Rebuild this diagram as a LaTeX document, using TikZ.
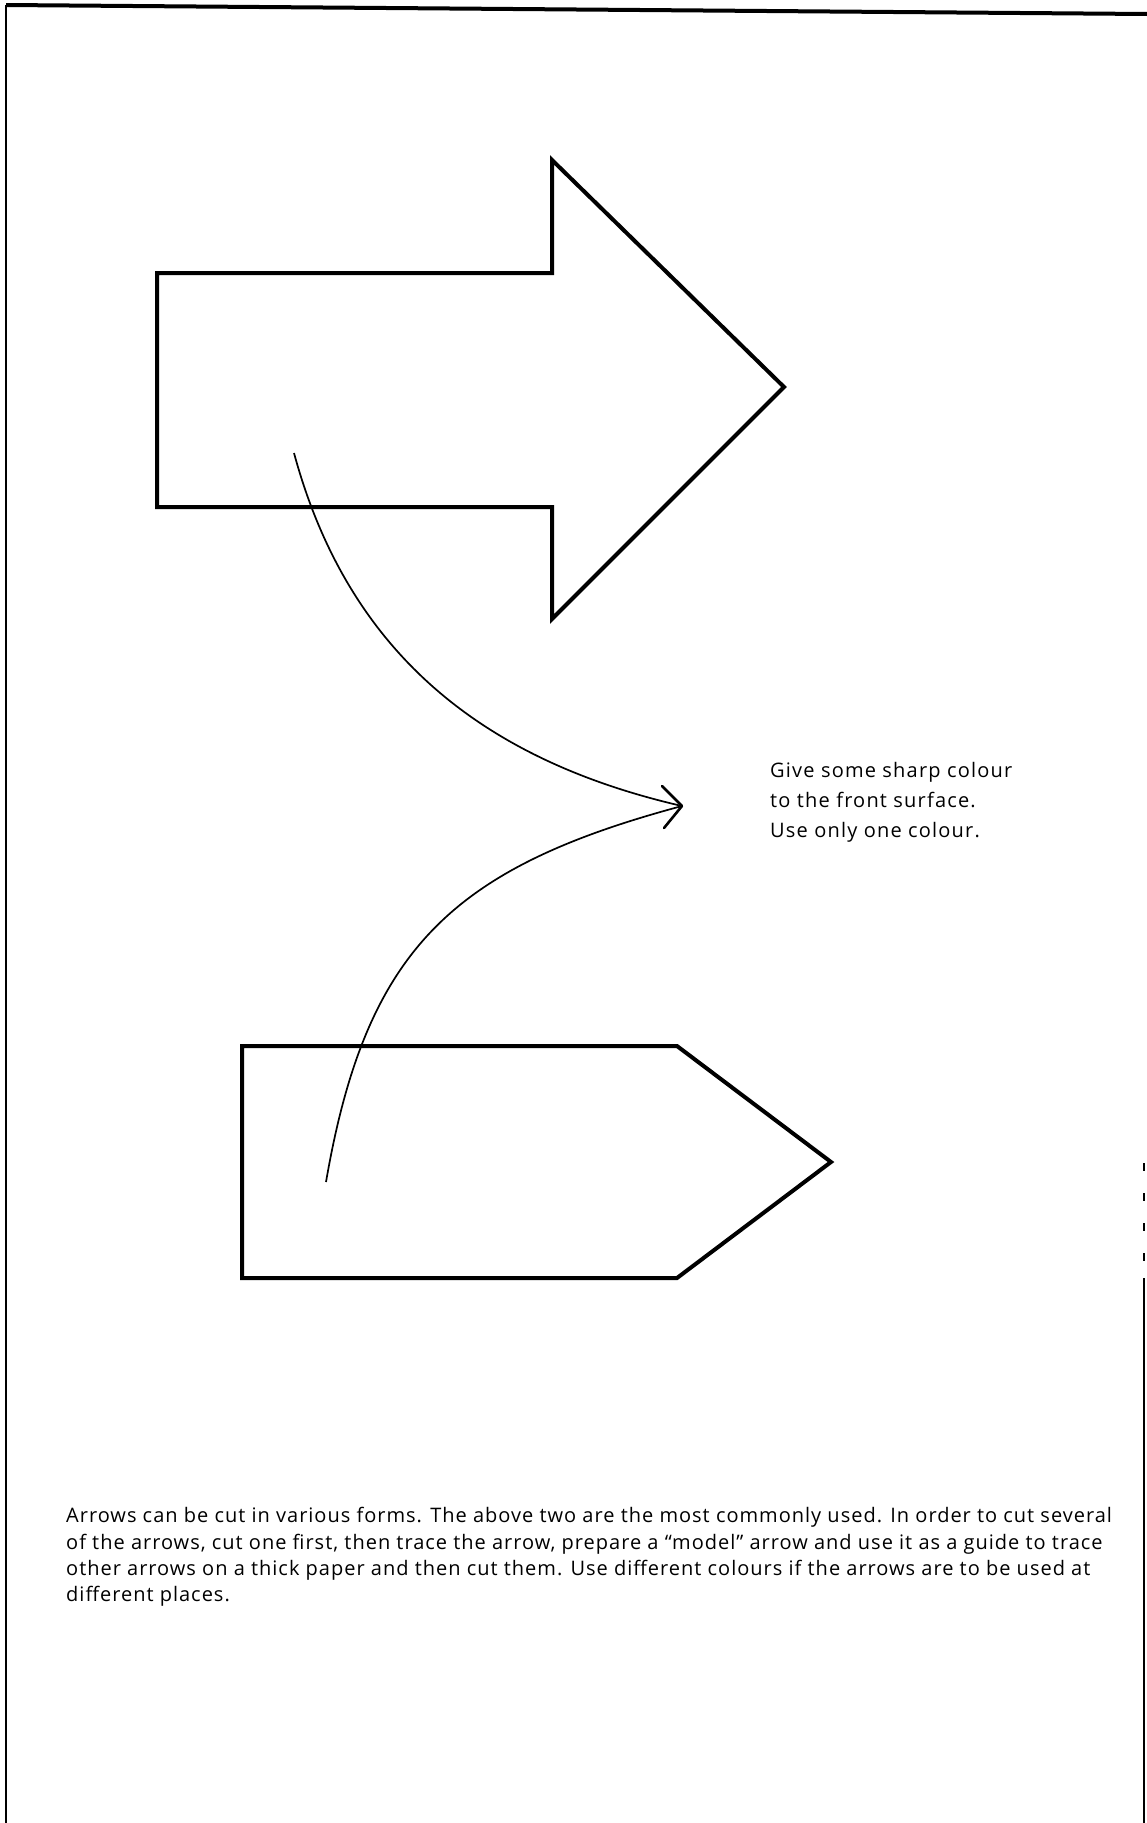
\documentclass[tikz,border=0pt]{standalone}
\usepackage{fontspec}
\setmainfont{Open Sans}
\begin{document}
\begin{tikzpicture}[x=1pt,y=-1pt,
  outline/.style={line width=4pt, line join=miter, line cap=round},
  guide/.style={line width=1.7pt},
  tipline/.style={line width=2.6pt, line cap=round},
  framel/.style={line width=2.5pt},
  note/.style={anchor=base west, inner sep=0pt, font=\fontsize{20}{24}\selectfont\addfontfeature{LetterSpace=6}},
  para/.style={anchor=base west, inner sep=0pt, font=\fontsize{20}{24}\selectfont\addfontfeature{LetterSpace=5}}]
\useasboundingbox (0,0) rectangle (1147,1823);
\fill[white] (0,0) rectangle (1147,1823);
% frame
\draw[line width=4pt] (6,5) -- (1147,14);
\draw[framel] (6,5) -- (6,1823);
\draw[framel, dash pattern=on 8pt off 22pt] (1144,1163) -- (1144,1272);
\draw[framel] (1144,1278) -- (1144,1823);
% big arrow
\draw[outline] (157,273) -- (552,273) -- (552,160) -- (784,387) -- (552,619) -- (552,507) -- (157,507) -- cycle;
% pentagon arrow
\draw[outline] (242,1046) -- (677,1046) -- (831,1162) -- (677,1278) -- (242,1278) -- cycle;
% guide curves
\coordinate (s1) at (294,453);
\coordinate (s2) at (326,1182);
\coordinate (tip) at (682,806);
\draw[guide] (s1) .. controls (350,660) and (491,762) .. (tip);
\draw[guide] (s2) .. controls (366,950) and (451,868) .. (tip);
\draw[tipline] (tip) -- (662,786);
\draw[tipline] (tip) -- (664,828);
% note
\node[note] (n1) at (770,777) {Give some sharp colour};
\node[note] (n2) at (770,807) {to the front surface.};
\node[note] (n3) at (770,837) {Use only one colour.};
% paragraph
\node[para] (p1) at (66,1522) {Arrows can be cut in various forms. The above two are the most commonly used. In order to cut several};
\node[para] (p2) at (66,1549) {of the arrows, cut one first, then trace the arrow, prepare a ``model'' arrow and use it as a guide to trace};
\node[para] (p3) at (66,1575) {other arrows on a thick paper and then cut them. Use different colours if the arrows are to be used at};
\node[para] (p4) at (66,1601) {different places.};
\end{tikzpicture}
\end{document}
